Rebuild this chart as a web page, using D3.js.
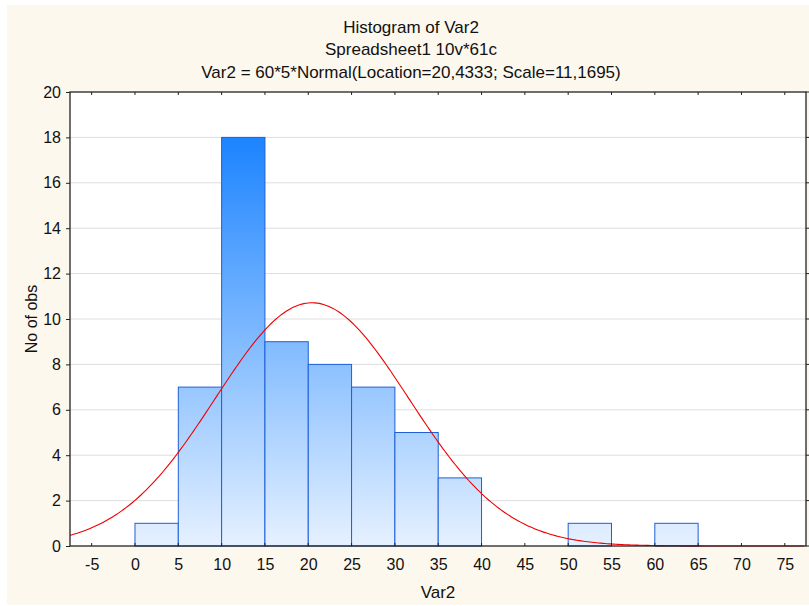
<!DOCTYPE html>
<html><head><meta charset="utf-8">
<script src="https://cdn.jsdelivr.net/npm/d3@7"></script>
<style>body{margin:0;background:#fff;} svg{display:block;}</style>
</head><body>
<script>
// Data
const binStarts = [0, 5, 10, 15, 20, 25, 30, 35, 50, 60];
const binWidth = 5;
const counts = [1, 7, 18, 9, 8, 7, 5, 3, 1, 1];
const xTicks = [-5, 0, 5, 10, 15, 20, 25, 30, 35, 40, 45, 50, 55, 60, 65, 70, 75];
const yTicks = [0, 2, 4, 6, 8, 10, 12, 14, 16, 18, 20];
const fitN = 60, fitBin = 5, fitLoc = 20.4333, fitScale = 11.1695;
const titles = ["Histogram of Var2", "Spreadsheet1 10v*61c", "Var2 = 60*5*Normal(Location=20,4333; Scale=11,1695)"];

const W = 809, H = 606;
const svg = d3.select("body").append("svg").attr("width", W).attr("height", H);
const font = "'Liberation Sans', Arial, sans-serif";

svg.append("rect").attr("x", 7).attr("y", 5).attr("width", W - 7).attr("height", H - 6).attr("fill", "#FDF8EE");

const L = 70, R = 806, T = 92, B = 546;
const x = d3.scaleLinear().domain([-7.5, 77.45]).range([L, R]);
const y = d3.scaleLinear().domain([0, 20]).range([B, T]);

svg.append("rect").attr("x", L).attr("y", T).attr("width", R - L).attr("height", B - T).attr("fill", "#fff");

const defs = svg.append("defs");
const g = defs.append("linearGradient").attr("id", "bg").attr("gradientUnits", "userSpaceOnUse")
  .attr("x1", 0).attr("x2", 0).attr("y1", y(18)).attr("y2", B);
g.append("stop").attr("offset", 0).attr("stop-color", "#1C84FF");
g.append("stop").attr("offset", 1).attr("stop-color", "#E6F1FF");

// gridlines
svg.append("g").selectAll("line").data(yTicks.filter(d => d > 0 && d < 20)).join("line")
  .attr("x1", L).attr("x2", R).attr("y1", d => y(d)).attr("y2", d => y(d))
  .attr("stroke", "#DEDEDE").attr("stroke-width", 1);

// bars
svg.append("g").selectAll("rect").data(counts).join("rect")
  .attr("x", (d, i) => x(binStarts[i]))
  .attr("width", (d, i) => x(binStarts[i] + binWidth) - x(binStarts[i]))
  .attr("y", d => y(d)).attr("height", d => B - y(d))
  .attr("fill", "url(#bg)").attr("stroke", "#1E5FD6").attr("stroke-width", 1);

// normal curve
const pts = d3.range(-7.5, 77.5, 0.25).map(v => [v, fitN * fitBin * Math.exp(-0.5 * ((v - fitLoc) / fitScale) ** 2) / (fitScale * Math.sqrt(2 * Math.PI))]);
svg.append("path").datum(pts).attr("fill", "none").attr("stroke", "#F00000").attr("stroke-width", 1.1)
  .attr("d", d3.line().x(d => x(d[0])).y(d => y(d[1])));

// frame
svg.append("rect").attr("x", L).attr("y", T).attr("width", R - L).attr("height", B - T)
  .attr("fill", "none").attr("stroke", "#222").attr("stroke-width", 1.3);

// axes
const xAxis = d3.axisBottom(x).tickValues(xTicks).tickSize(0).tickPadding(13).tickFormat(d => String(d));
const gx = svg.append("g").attr("transform", `translate(0,${B})`).call(xAxis);
gx.select(".domain").remove();
gx.selectAll("text").attr("font-family", font).attr("font-size", 16).attr("fill", "#111");
svg.append("g").selectAll("line").data(xTicks).join("line")
  .attr("x1", d => x(d)).attr("x2", d => x(d)).attr("y1", B).attr("y2", B - 3).attr("stroke", "#222");
svg.append("g").selectAll("line").data(xTicks).join("line")
  .attr("x1", d => x(d)).attr("x2", d => x(d)).attr("y1", T).attr("y2", T + 3).attr("stroke", "#222");

const yAxis = d3.axisLeft(y).tickValues(yTicks).tickSize(4).tickPadding(5).tickFormat(d => String(d));
const gy = svg.append("g").attr("transform", `translate(${L},0)`).call(yAxis);
gy.select(".domain").remove();
gy.selectAll("line").attr("stroke", "#222");
gy.selectAll("text").attr("font-family", font).attr("font-size", 16).attr("fill", "#111");
svg.append("g").selectAll("line").data(yTicks).join("line")
  .attr("x1", R).attr("x2", R + 3).attr("y1", d => y(d)).attr("y2", d => y(d)).attr("stroke", "#222");

// titles
svg.append("g").selectAll("text").data(titles).join("text")
  .attr("x", 411).attr("y", (d, i) => 32.5 + i * 22.7).attr("text-anchor", "middle")
  .attr("font-family", font).attr("font-size", 17).attr("fill", "#111").text(d => d);

svg.append("text").attr("x", 438).attr("y", 598).attr("text-anchor", "middle")
  .attr("font-family", font).attr("font-size", 17).attr("fill", "#111").text("Var2");
svg.append("text").attr("transform", `translate(37,${(T + B) / 2}) rotate(-90)`).attr("text-anchor", "middle")
  .attr("font-family", font).attr("font-size", 16).attr("fill", "#111").text("No of obs");
</script>
</body></html>
